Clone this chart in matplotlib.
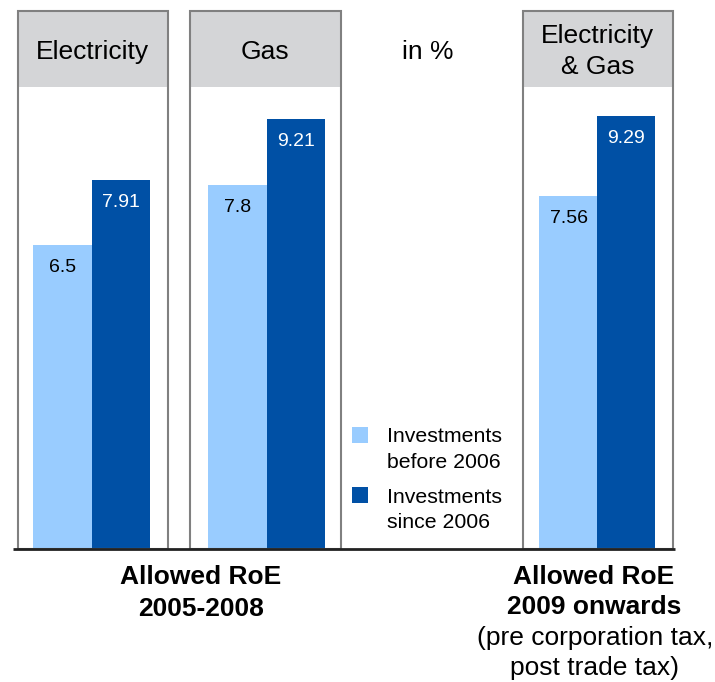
import matplotlib
matplotlib.use("Agg")
import matplotlib.pyplot as plt
from matplotlib.patches import Rectangle

plt.rcParams['font.family'] = ['Liberation Sans', 'DejaVu Sans']

# ---- data ----
panels = ["Electricity", "Gas", "Electricity\n& Gas"]
before_2006 = [6.5, 7.8, 7.56]
since_2006 = [7.91, 9.21, 9.29]
series_names = ["Investments\nbefore 2006", "Investments\nsince 2006"]
unit_label = "in %"
group_labels = ["Allowed RoE\n2005-2008",
                "Allowed RoE\n2009 onwards"]
note_label = "(pre corporation tax,\npost trade tax)"

LIGHT = "#99CCFF"
DARK = "#0050A5"
HEADER = "#D4D5D7"
EDGE = "#808080"

W, H = 715, 682
fig = plt.figure(figsize=(W / 100, H / 100), dpi=100)
ax = fig.add_axes([0, 0, 1, 1])
ZERO = 547.5      # pixel row of value 0
PPU = 46.5        # pixels per unit
ax.set_xlim(0, W)
ax.set_ylim(-(H - ZERO) / PPU, ZERO / PPU)
ax.axis('off')


def Y(p):
    return (ZERO - p) / PPU


# panel boxes (pixel layout)
boxes = [(17.5, 168), (189.5, 341), (522.5, 673)]
top, head_bot, base = 11, 87, 549
for (x0, x1) in boxes:
    ax.add_patch(Rectangle((x0, Y(head_bot)), x1 - x0, Y(top) - Y(head_bot),
                           facecolor=HEADER, edgecolor='none', zorder=1))
    ax.add_patch(Rectangle((x0, Y(base)), x1 - x0, Y(top) - Y(base),
                           facecolor='none', edgecolor=EDGE, lw=1.5, zorder=4))

# bars
light_x = [62.5, 237.5, 569]
dark_x = [121, 296, 626]
bw = 58.5
ext = Y(ZERO) - Y(base)
ax.bar(light_x, [v + ext for v in before_2006], bottom=Y(base), width=bw + 1.5,
       color=LIGHT, zorder=2, linewidth=0)
ax.bar(dark_x, [v + ext for v in since_2006], bottom=Y(base), width=bw,
       color=DARK, zorder=3, linewidth=0)

off = 27 / PPU
for x, v in zip(light_x, before_2006):
    ax.text(x, v - off, f"{v:g}", ha='center', va='baseline', fontsize=14,
            color='black', zorder=5)
for x, v in zip(dark_x, since_2006):
    ax.text(x, v - off, f"{v:g}", ha='center', va='baseline', fontsize=14,
            color='white', zorder=5)

# baseline
ax.plot([13, 675], [Y(549), Y(549)], color='#222222', lw=2, zorder=6,
        solid_capstyle='butt')

# headers
hs = 19
ax.text(92.5, Y(59), panels[0], ha='center', va='baseline', fontsize=hs, zorder=5)
ax.text(265, Y(59), panels[1], ha='center', va='baseline', fontsize=hs, zorder=5)
l1, l2 = panels[2].split("\n")
ax.text(597.5, Y(43), l1, ha='center', va='baseline', fontsize=hs, zorder=5)
ax.text(597.5, Y(74), l2, ha='center', va='baseline', fontsize=hs, zorder=5)
ax.text(428, Y(59), unit_label, ha='center', va='baseline', fontsize=hs, zorder=5)

# legend
for (ytop, col, name, bl) in [(427, LIGHT, series_names[0], (442, 468)),
                              (487, DARK, series_names[1], (503, 528))]:
    ax.add_patch(Rectangle((352, Y(ytop + 15.5)), 16, 15.5 / PPU,
                           facecolor=col, edgecolor='none', zorder=5))
    a, b = name.split("\n")
    ax.text(387, Y(bl[0]), a, ha='left', va='baseline', fontsize=15.3, zorder=5)
    ax.text(387, Y(bl[1]), b, ha='left', va='baseline', fontsize=15.3, zorder=5)

# bottom labels
fs = 19
a, b = group_labels[0].split("\n")
ax.text(201, Y(584), a, ha='center', va='baseline', fontsize=fs, fontweight='bold')
ax.text(201, Y(616), b, ha='center', va='baseline', fontsize=fs, fontweight='bold')
a, b = group_labels[1].split("\n")
ax.text(594, Y(584), a, ha='center', va='baseline', fontsize=fs, fontweight='bold')
ax.text(594, Y(614), b, ha='center', va='baseline', fontsize=fs, fontweight='bold')
a, b = note_label.split("\n")
ax.text(595, Y(645), a, ha='center', va='baseline', fontsize=fs)
ax.text(595, Y(675), b, ha='center', va='baseline', fontsize=fs)

fig.savefig("out.png", dpi=100)
